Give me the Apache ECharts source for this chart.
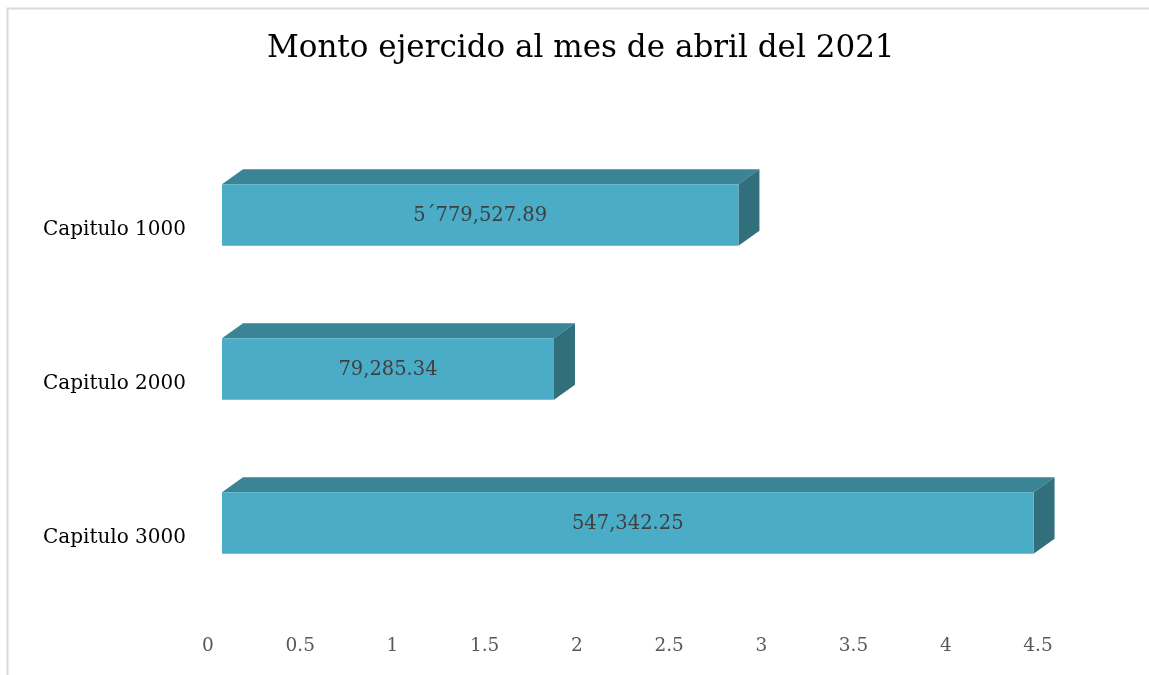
<!DOCTYPE html>
<html>
<head>
<meta charset="utf-8">
<script src="https://cdn.jsdelivr.net/npm/echarts@6/dist/echarts.min.js"></script>
<style>
  html, body { margin: 0; padding: 0; background: #fff; }
  #main { width: 1149px; height: 675px; }
</style>
</head>
<body>
<div id="main"></div>
<script>
const categories = ['Capitulo 1000', 'Capitulo 2000', 'Capitulo 3000'];
const values = [2.8, 1.8, 4.4];
const barLabels = ['5\u00b4779,527.89', '79,285.34', '547,342.25'];
const xTicks = { min: 0, max: 4.5, interval: 0.5 };

const SERIF = '"DejaVu Serif", "Liberation Serif", serif';
// offset of the bar's front face from the floor plane, and the bar depth
const OX = 14, OY = -15, DX = 21, DY = -15;

function renderBar(params, api) {
  let cat = api.value(0);
  let v = api.value(1);
  let a = api.coord([0, cat]);
  let b = api.coord([v, cat]);
  let h = api.size([0, 1])[1] * 0.4;
  let x0 = a[0] + OX, x1 = b[0] + OX;
  let y0 = a[1] + OY - h / 2, y1 = y0 + h;
  return {
    type: 'group',
    children: [
      {
        type: 'polygon',
        shape: { points: [[x0, y0], [x0 + DX, y0 + DY], [x1 + DX, y0 + DY], [x1, y0]] },
        style: { fill: '#3a8496' }
      },
      {
        type: 'polygon',
        shape: { points: [[x1, y0], [x1 + DX, y0 + DY], [x1 + DX, y1 + DY], [x1, y1]] },
        style: { fill: '#316f7d' }
      },
      {
        type: 'rect',
        shape: { x: x0, y: y0, width: x1 - x0, height: h },
        style: { fill: '#4aacc6' }
      },
      {
        type: 'text',
        style: {
          text: barLabels[params.dataIndex],
          x: (x0 + x1) / 2,
          y: (y0 + y1) / 2 + 1,
          align: 'center',
          verticalAlign: 'middle',
          fill: '#404040',
          font: '19.5px ' + SERIF
        }
      }
    ]
  };
}

let myChart = echarts.init(document.getElementById('main'));
let option = {
  animation: false,
  backgroundColor: '#fff',
  title: {
    text: 'Monto ejercido al mes de abril del 2021',
    left: 262,
    top: 28,
    textStyle: { fontFamily: SERIF, fontSize: 31, fontWeight: 'normal', color: '#000' }
  },
  graphic: [{
    type: 'rect',
    left: 5, top: 6,
    shape: { width: 1200, height: 720 },
    style: { fill: 'none', stroke: '#d9d9d9', lineWidth: 2 },
    silent: true
  }],
  grid: { left: 208, right: 111, top: 153, bottom: 60 },
  xAxis: {
    type: 'value',
    min: xTicks.min, max: xTicks.max, interval: xTicks.interval,
    axisLine: { show: false },
    axisTick: { show: false },
    splitLine: { show: false },
    axisLabel: { margin: 22, fontFamily: SERIF, fontSize: 18.5, color: '#595959' }
  },
  yAxis: {
    type: 'category',
    data: categories,
    inverse: true,
    axisLine: { show: false },
    axisTick: { show: false },
    axisLabel: { margin: 22, fontFamily: SERIF, fontSize: 20, color: '#000' }
  },
  series: [{
    type: 'custom',
    renderItem: renderBar,
    encode: { x: 1, y: 0 },
    data: values.map((v, i) => [i, v])
  }]
};
option && myChart.setOption(option);
</script>
</body>
</html>
